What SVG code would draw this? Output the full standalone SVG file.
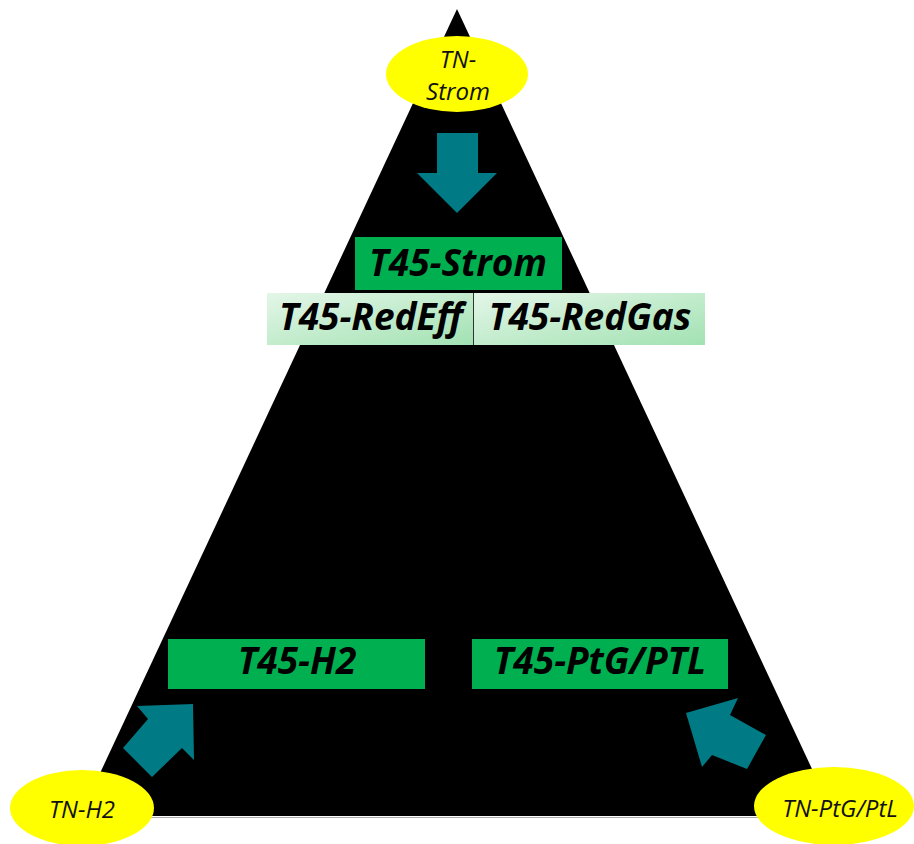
<svg xmlns="http://www.w3.org/2000/svg" width="914" height="844" viewBox="0 0 914 844">
<style>
.tn{fill:#ffff00;stroke:none}
.tnt{font-family:"Open Sans","Noto Sans",sans-serif;font-style:italic;font-size:24px;fill:#111;text-anchor:middle}
.box{fill:#00b050}
.lbox{fill:url(#lg)}
.bt{font-family:"Open Sans","Noto Sans",sans-serif;font-style:italic;font-weight:bold;font-size:37px;fill:#000;text-anchor:middle}
.arr{fill:#007a85}
</style>
<defs>
<linearGradient id="lg" x1="0" y1="0" x2="1" y2="1">
<stop offset="0" stop-color="#e4f6e8"/>
<stop offset="1" stop-color="#a2e2b2"/>
</linearGradient>
</defs>
<rect width="914" height="844" fill="#fff"/>
<g id="triangle">
<polygon points="457,9 80,816 834,816" fill="#000"/>
<line x1="80" y1="817.5" x2="834" y2="817.5" stroke="#aaa" stroke-width="1"/>
</g>
<g id="connectors">
<polygon class="arr" points="437,133 478,133 478,173 497,173 457,213 417,173 437,173"/>
<polygon class="arr" points="193,704 194,760 182,748 152,777 123,748 148,719 137,706"/>
<polygon class="arr" points="686,713 738,698 730,715 766,735 747,769 712,755 702,767"/>
</g>
<g id="t45-strom">
<rect class="box" x="355" y="237" width="207" height="53"/>
<text class="bt" x="458" y="276">T45-Strom</text>
</g>
<g id="t45-redeff">
<rect class="lbox" x="267" y="293" width="206" height="52"/>
<text class="bt" x="371" y="330">T45-RedEff</text>
</g>
<g id="t45-redgas">
<rect class="lbox" x="474" y="293" width="231" height="52"/>
<line x1="473.5" y1="293" x2="473.5" y2="345" stroke="#333" stroke-width="1"/>
<text class="bt" x="590" y="330">T45-RedGas</text>
</g>
<g id="t45-h2">
<rect class="box" x="168" y="639" width="257" height="50"/>
<text class="bt" x="297" y="674">T45-H2</text>
</g>
<g id="t45-ptg">
<rect class="box" x="472" y="639" width="256" height="50"/>
<text class="bt" x="600" y="674">T45-PtG/PTL</text>
</g>
<g id="tn-strom">
<ellipse class="tn" cx="457" cy="74" rx="71" ry="38"/>
<text class="tnt" x="458" y="68">TN-</text>
<text class="tnt" x="458" y="100">Strom</text>
</g>
<g id="tn-h2">
<ellipse class="tn" cx="82" cy="808" rx="72" ry="38"/>
<text class="tnt" x="82" y="818">TN-H2</text>
</g>
<g id="tn-ptg">
<ellipse class="tn" cx="834" cy="806" rx="80" ry="39"/>
<text class="tnt" x="840" y="817">TN-PtG/PtL</text>
</g>
</svg>
